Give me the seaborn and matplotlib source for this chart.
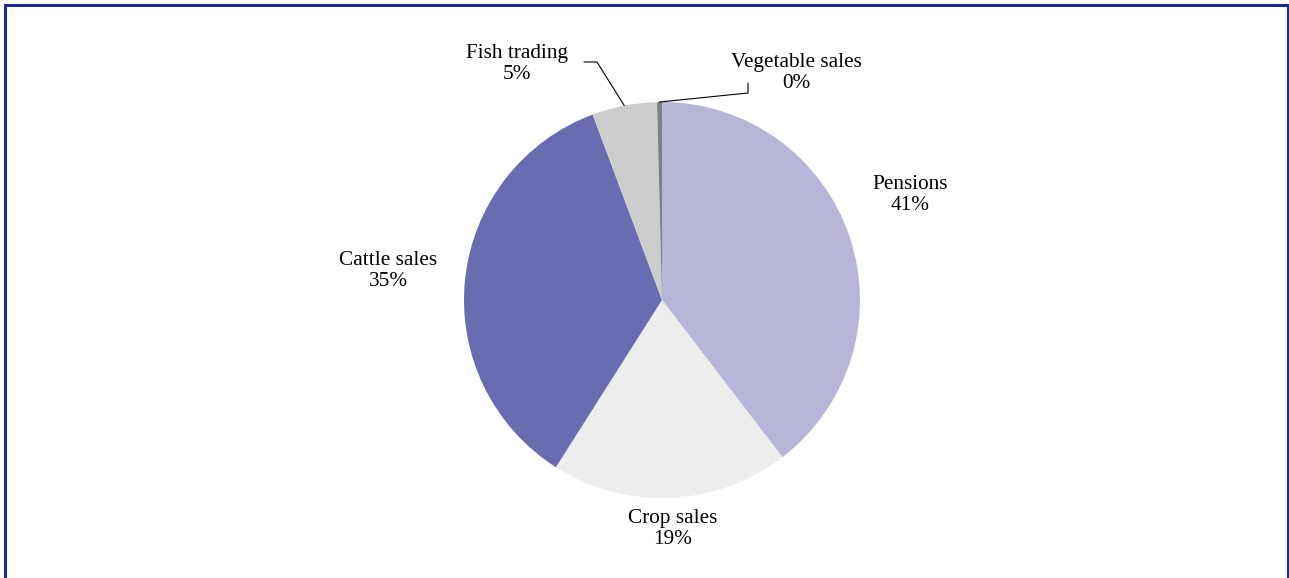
import matplotlib
matplotlib.use("Agg")
import matplotlib.pyplot as plt
import numpy as np
import seaborn as sns

categories = ['Pensions', 'Crop sales', 'Cattle sales', 'Fish trading', 'Vegetable sales']
shares = [39.6, 19.4, 35.3, 5.3, 0.4]
pct_labels = ['41%', '19%', '35%', '5%', '0%']
slice_colors = ['#b7b6d9', '#ededed', '#686cb0', '#cccccc', '#7f7f7f']

# label centres in pixel coords (y measured from the bottom)
label_pos = {
    'Pensions': (910, 383),
    'Crop sales': (673, 49),
    'Cattle sales': (388, 307),
    'Fish trading': (517, 514),
    'Vegetable sales': (796, 505),
}
# leader line bend + end points (pixel coords, y from bottom)
leaders = {
    'Fish trading': [(597, 516), (584, 516)],
    'Vegetable sales': [(748, 485), (748, 495)],
}

sns.set_theme(style='white')
plt.rcParams['font.family'] = ['Liberation Serif', 'DejaVu Serif']

W, H = 1289, 578
fig = plt.figure(figsize=(W / 100, H / 100), dpi=100)
ax = fig.add_axes([0, 0, 1, 1])

center = (662, H - 300)
radius = 198
wedges, _ = ax.pie(shares, colors=slice_colors, startangle=90, counterclock=False,
                   center=center, radius=radius, frame=True,
                   wedgeprops=dict(linewidth=0))
ax.set_xlim(0, W)
ax.set_ylim(0, H)
ax.set_aspect('equal')
ax.axis('off')

fs = 15.3
for w, name, pct in zip(wedges, categories, pct_labels):
    ax.text(*label_pos[name], f"{name}\n{pct}", ha='center', va='center',
            fontsize=fs, linespacing=1.2, color='black')
    if name in leaders:
        mid = np.deg2rad((w.theta1 + w.theta2) / 2)
        edge = (center[0] + radius * np.cos(mid), center[1] + radius * np.sin(mid))
        pts = [edge] + leaders[name]
        ax.plot([p[0] for p in pts], [p[1] for p in pts], color='black', lw=0.8)

# dark blue frame around the chart
frame = plt.Rectangle((5 / W, -0.05), (1287.5 - 5) / W, (H - 5.5) / H + 0.05,
                      transform=fig.transFigure, fill=False,
                      edgecolor='#1a2b96', linewidth=2.2)
fig.add_artist(frame)

fig.savefig('out.png', dpi=100, facecolor='white')
